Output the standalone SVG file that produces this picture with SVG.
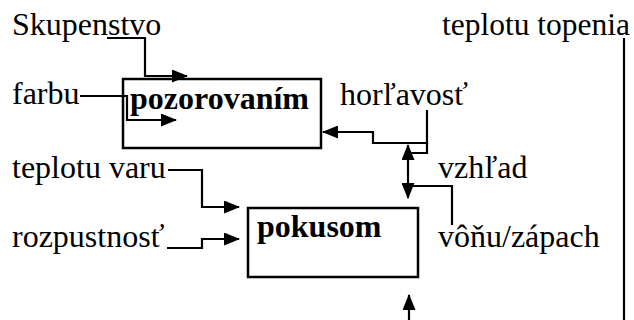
<svg xmlns="http://www.w3.org/2000/svg" width="634" height="320" viewBox="0 0 634 320">
<style>
  .t { font-family: 'Liberation Serif', 'Times New Roman', Times, serif; font-size: 32px; fill: #000; }
  .b { font-weight: bold; }
  .box { fill: #fff; stroke: #000; stroke-width: 2.5; }
  .ln { fill: none; stroke: #000; stroke-width: 2.2; }
</style>
<defs>
  <marker id="ah" viewBox="0 0 16 13" refX="15" refY="6.5" markerWidth="16" markerHeight="13" markerUnits="userSpaceOnUse" orient="auto-start-reverse">
    <path d="M0,0 L16,6.5 L0,13 Z" fill="#000"/>
  </marker>
</defs>
<rect width="634" height="320" fill="#fff"/>
<g id="pozorovanim">
  <rect class="box" x="123" y="79" width="198" height="69"/>
  <text class="t b" font-family="Liberation Serif, serif" x="130" y="109">pozorovaním</text>
</g>
<g id="pokusom">
  <rect class="box" x="248" y="208" width="170" height="69"/>
  <text class="t b" font-family="Liberation Serif, serif" x="257" y="237">pokusom</text>
</g>
<g id="labels" font-family="Liberation Serif, serif">
  <text class="t" x="12" y="35">Skupenstvo</text>
  <text class="t" x="442" y="35" textLength="188" lengthAdjust="spacingAndGlyphs">teplotu topenia</text>
  <text class="t" x="12" y="104">farbu</text>
  <text class="t" x="340" y="105">horľavosť</text>
  <text class="t" x="12" y="178">teplotu varu</text>
  <text class="t" x="438" y="178">vzhľad</text>
  <text class="t" x="12" y="247">rozpustnosť</text>
  <text class="t" x="438" y="247">vôňu/zápach</text>
</g>
<g id="connectors">
  <path class="ln" d="M107,38 H145 V76 H187" marker-end="url(#ah)"/>
  <path class="ln" d="M80,96 H127 V120 H176" marker-end="url(#ah)"/>
  <path class="ln" d="M427,110 V143 H373 V132 H323" marker-end="url(#ah)"/>
  <path class="ln" d="M427,143 V153 H410"/>
  <path class="ln" d="M408,145 V198" marker-start="url(#ah)" marker-end="url(#ah)"/>
  <path class="ln" d="M452,225 V186 H410"/>
  <path class="ln" d="M168,170 H202 V207 H239" marker-end="url(#ah)"/>
  <path class="ln" d="M167,248 H202 V239 H239" marker-end="url(#ah)"/>
  <path class="ln" d="M624,38 V320"/>
  <path class="ln" d="M409,320 V295" marker-end="url(#ah)"/>
</g>
</svg>
